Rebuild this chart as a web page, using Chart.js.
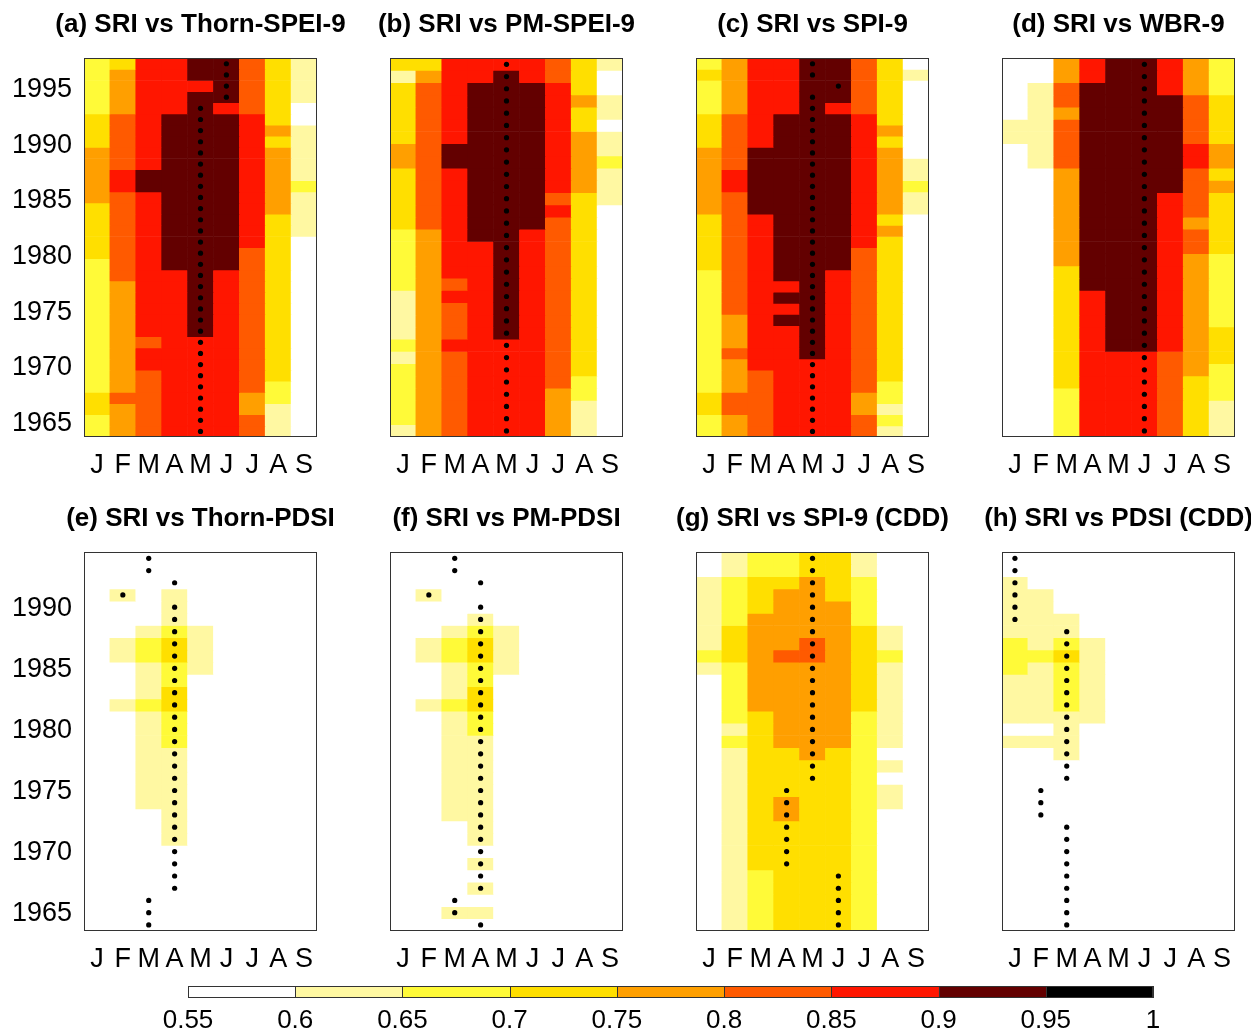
<!DOCTYPE html>
<html>
<head>
<meta charset="utf-8">
<script src="https://cdn.jsdelivr.net/npm/chart.js@4.4.0/dist/chart.umd.min.js"></script>
<style>
html, body { margin: 0; padding: 0; background: #fff; overflow: hidden; width: 1251px; height: 1032px; }
.panel { position: absolute; }
</style>
</head>
<body>
<script>
// month columns and colour classes of the colour bar
const months = ['J', 'F', 'M', 'A', 'M', 'J', 'J', 'A', 'S'];
const cbTicks = [0.55, 0.6, 0.65, 0.7, 0.75, 0.8, 0.85, 0.9, 0.95, 1];
const levelColors = ['#ffffff', '#fff8a2', '#fffa38', '#ffdf00', '#ff9f00', '#ff5a00', '#ff1600', '#630000', '#000000'];
const yearTicksTop = [1965, 1970, 1975, 1980, 1985, 1990, 1995];
const yearTicksBottom = [1965, 1970, 1975, 1980, 1985, 1990];

// cells: one string per month, colour class * number of years, from the latest year down
// peak: month index of the dot for each year, same order
const cellsA = [
  '2*5 3*3 4*5 3*5 2*12 3*2 2*2',
  '3*1 4*4 5*5 6*2 5*8 4*10 5*1 4*3',
  '6*10 7*2 6*13 5*1 6*2 5*6',
  '6*5 7*14 6*15',
  '7*2 6*1 7*22 6*9',
  '7*4 6*1 7*14 6*15',
  '5*5 6*12 5*13 4*2 5*2',
  '3*6 4*1 3*1 4*6 3*15 2*2 1*3',
  '1*4 0*2 1*5 2*1 1*4 0*18'
];
const peakA = '5*4 4*30';

const cellsB = [
  '3*1 1*1 3*5 4*2 3*5 2*5 1*4 2*1 1*1 2*5 1*1',
  '3*1 4*1 5*12 4*17',
  '6*7 7*2 6*9 5*1 6*1 5*3 6*1 5*7',
  '6*2 7*13 6*16',
  '6*1 7*22 6*8',
  '6*2 7*12 6*17',
  '5*2 6*9 5*1 6*1 5*14 4*4',
  '3*3 4*1 3*2 4*5 3*15 2*2 1*3',
  '1*1 0*2 1*2 0*1 1*2 2*1 1*3 0*19'
];
const peakB = '4*31';

const cellsC = [
  '2*1 3*1 2*3 3*3 4*6 3*5 2*11 3*2 2*2',
  '4*5 5*5 6*2 5*11 4*3 5*1 4*3 5*2 4*2',
  '6*8 7*6 6*14 5*6',
  '6*5 7*15 6*1 7*1 6*1 7*1 6*10',
  '7*27 6*7',
  '7*4 6*1 7*14 6*15',
  '5*5 6*12 5*13 4*2 5*2',
  '3*6 4*1 3*1 4*6 3*1 4*1 3*13 2*2 1*1 2*1 1*1',
  '0*1 1*1 0*7 1*2 2*1 1*2 0*20'
];
const peakC = '4*2 5*1 4*31';

const cellsD = [
  '0*5 1*2 0*24',
  '0*2 1*7 0*22',
  '4*2 5*2 4*1 5*4 4*8 3*10 2*4',
  '6*2 7*17 6*12',
  '7*24 6*7',
  '7*24 6*7',
  '6*3 7*8 6*13 5*7',
  '4*3 5*4 6*2 5*4 4*1 5*2 4*10 3*5',
  '2*3 3*4 4*2 3*1 4*1 3*5 2*6 3*3 2*3 1*3'
];
const peakD = '5*31';

const cellsE = [
  '0*31',
  '0*3 1*1 0*3 1*2 0*3 1*1 0*18',
  '0*6 1*1 2*2 1*3 2*1 1*8 0*10',
  '0*3 1*3 2*1 3*2 2*2 3*2 2*3 1*8 0*7',
  '0*6 1*4 0*21',
  '0*31', '0*31', '0*31', '0*31'
];
const peakE = '2*2 3*1 1*1 3*24 2*3';

const cellsF = [
  '0*31',
  '0*3 1*1 0*3 1*2 0*3 1*1 0*18',
  '0*6 1*1 2*2 1*3 2*1 1*9 0*7 1*1 0*1',
  '0*5 1*1 2*1 3*2 2*2 3*2 2*2 1*9 0*1 1*1 0*1 1*1 0*1 1*1 0*1',
  '0*6 1*4 0*21',
  '0*31', '0*31', '0*31', '0*31'
];
const peakF = '2*2 3*1 1*1 3*24 2*2 3*1';

const cellsG = [
  '0*2 1*6 2*1 1*1 0*21',
  '1*2 2*4 3*3 2*5 1*1 2*1 1*15',
  '2*2 3*3 4*8 3*13 2*5',
  '2*2 3*1 4*5 5*1 4*7 3*4 4*2 3*9',
  '3*2 4*5 5*2 4*8 3*14',
  '3*4 4*12 3*15',
  '1*2 2*4 3*7 2*18',
  '0*6 1*2 2*1 1*7 0*1 1*1 0*1 1*2 0*10',
  '0*31'
];
const peakG = '4*19 3*7 5*5';

const cellsH = [
  '0*2 1*5 2*3 1*4 0*1 1*1 0*15',
  '0*3 1*5 2*1 1*5 0*1 1*1 0*15',
  '0*5 1*2 2*1 3*1 2*4 1*4 0*14',
  '0*7 1*7 0*17',
  '0*31', '0*31', '0*31', '0*31', '0*31'
];
const peakH = '0*6 2*13 1*3 2*9';

const FONT = "'Liberation Sans', Arial, Helvetica, sans-serif";

function decodeRuns(str) {
  var out = [];
  str.trim().split(/\s+/).forEach(function(t){
    var p = t.split('*');
    for (var i = 0; i < +p[1]; i++) out.push(+p[0]);
  });
  return out;
}

// correlation taken as the middle of the colour class
function toCorr(k) { return cbTicks[k] + 0.025; }

function colorOf(v) {
  var k = Math.floor((v - 0.55) / 0.05 + 1e-9);
  if (k < 0) k = 0;
  if (k > 8) k = 8;
  return levelColors[k];
}

var frame = {
  id: 'frame',
  afterDatasetsDraw: function(chart){
    var a = chart.chartArea, c = chart.ctx;
    c.save();
    c.strokeStyle = '#333';
    c.lineWidth = 1;
    c.strokeRect(Math.round(a.left) + 0.5, Math.round(a.top) + 0.5,
                 Math.round(a.right - a.left) - 1, Math.round(a.bottom - a.top) - 1);
    c.restore();
  }
};

function makePanel(left, top, title, cells, peaks, firstYear, shift, ticks)
{
  var div = document.createElement('div');
  div.className = 'panel';
  div.style.left = (left - 84) + 'px';
  div.style.top = (top - 58) + 'px';
  var cv = document.createElement('canvas');
  cv.width = 401;
  cv.height = 497;
  div.appendChild(cv);
  document.body.appendChild(div);

  var corr = cells.map(function(s){ return decodeRuns(s).map(toCorr); });
  var peak = decodeRuns(peaks);
  var n = corr[0].length;
  corr.forEach(function(c, m){
    if (c.length !== n) throw new Error(title + ' month ' + m + ': ' + c.length + ' rows, expected ' + n);
  });
  if (peak.length !== n) throw new Error(title + ' peaks: ' + peak.length + ' rows, expected ' + n);
  var lastYear = firstYear + n - 1;

  var dots = [];
  var datasets = [];
  for (var r = 0; r < n; r++) {
    var yr = lastYear - r;
    var lo = yr - 0.5 + shift, hi = yr + 0.5 + shift;
    datasets.push({
      type: 'bar',
      order: 1,
      data: months.map(function(){ return [lo, hi]; }),
      backgroundColor: months.map(function(_, m){ return colorOf(corr[m][r]); }),
      borderWidth: 0,
      grouped: false,
      barPercentage: 1,
      categoryPercentage: 1
    });
    dots.push({x: peak[r], y: yr + shift});
  }
  datasets.unshift({
    type: 'line',
    order: 0,
    data: dots,
    xAxisID: 'xd',
    showLine: false,
    pointRadius: 2.6,
    pointBorderWidth: 0,
    pointBackgroundColor: '#000',
    pointBorderColor: '#000'
  });

  new Chart(cv, {
    type: 'bar',
    data: { labels: months, datasets: datasets },
    options: {
      responsive: false,
      animation: false,
      layout: { padding: 0 },
      plugins: {
        legend: { display: false },
        tooltip: { enabled: false },
        title: {
          display: true,
          text: title,
          color: '#000',
          font: { family: FONT, size: 26, weight: 'bold', lineHeight: 1.2 },
          padding: { top: 9, bottom: 18 }
        }
      },
      scales: {
        x: {
          type: 'category',
          offset: true,
          grid: { display: false, drawTicks: false },
          border: { display: false },
          ticks: { color: '#000', font: { family: FONT, size: 27 }, padding: 12, autoSkip: false, maxRotation: 0 },
          afterFit: function(s){ s.height = 60; }
        },
        xd: {
          type: 'linear', display: false, offset: false, min: -0.5, max: 8.5,
          grid: { offset: false }
        },
        y: {
          type: 'linear',
          min: firstYear - 0.5 + shift,
          max: lastYear + 0.5 + shift,
          grid: { display: false, drawTicks: false },
          border: { display: false },
          ticks: {
            display: !!ticks, color: '#000', font: { family: FONT, size: 27 }, padding: 12,
            callback: function(v){ return String(v); }
          },
          afterBuildTicks: function(s){ s.ticks = (ticks || []).map(function(v){ return {value: v}; }); },
          afterFit: function(s){ s.width = 84; }
        },
        yr: {
          type: 'linear',
          position: 'right',
          display: true,
          grid: { display: false, drawTicks: false },
          border: { display: false },
          ticks: { display: false },
          afterFit: function(s){ s.width = 84; }
        }
      }
    },
    plugins: [frame]
  });
}

makePanel(84, 58, '(a) SRI vs Thorn-SPEI-9', cellsA, peakA, 1964, 0.3, yearTicksTop);
makePanel(390, 58, '(b) SRI vs PM-SPEI-9', cellsB, peakB, 1964, 0.1, null);
makePanel(696, 58, '(c) SRI vs SPI-9', cellsC, peakC, 1964, 0.3, null);
makePanel(1002, 58, '(d) SRI vs WBR-9', cellsD, peakD, 1964, 0.1, null);
makePanel(84, 552, '(e) SRI vs Thorn-PDSI', cellsE, peakE, 1964, 0.1, yearTicksBottom);
makePanel(390, 552, '(f) SRI vs PM-PDSI', cellsF, peakF, 1964, 0.1, null);
makePanel(696, 552, '(g) SRI vs SPI-9 (CDD)', cellsG, peakG, 1964, 0.1, null);
makePanel(1002, 552, '(h) SRI vs PDSI (CDD)', cellsH, peakH, 1964, 0.1, null);

// colour bar
var cbFrame = {
  id: 'cbFrame',
  afterDatasetsDraw: function(chart){
    var a = chart.chartArea, c = chart.ctx, xs = chart.scales.x;
    c.save();
    c.strokeStyle = '#333';
    c.lineWidth = 1;
    c.beginPath();
    cbTicks.forEach(function(v){
      var px = Math.round(xs.getPixelForValue(v)) + 0.5;
      c.moveTo(px, a.top);
      c.lineTo(px, a.bottom);
    });
    c.stroke();
    c.strokeRect(Math.round(a.left) + 0.5, Math.round(a.top) + 0.5,
                 Math.round(a.right - a.left) - 1, Math.round(a.bottom - a.top) - 1);
    c.restore();
  }
};

(function(){
  var div = document.createElement('div');
  div.className = 'panel';
  div.style.left = '140px';
  div.style.top = '980px';
  var cv = document.createElement('canvas');
  cv.width = 1060;
  cv.height = 60;
  div.appendChild(cv);
  document.body.appendChild(div);

  new Chart(cv, {
    type: 'bar',
    data: {
      labels: [''],
      datasets: levelColors.map(function(col, k){
        return {
          data: [[cbTicks[k], cbTicks[k + 1]]],
          backgroundColor: col,
          borderWidth: 0,
          grouped: false,
          barPercentage: 1,
          categoryPercentage: 1
        };
      })
    },
    options: {
      indexAxis: 'y',
      responsive: false,
      animation: false,
      layout: { padding: { left: 48, right: 47, top: 6, bottom: 0 } },
      plugins: { legend: { display: false }, tooltip: { enabled: false } },
      scales: {
        x: {
          type: 'linear',
          min: 0.55,
          max: 1,
          grid: { display: false, drawTicks: false },
          border: { display: false },
          ticks: {
            color: '#000',
            font: { family: FONT, size: 26 },
            padding: 7,
            autoSkip: false,
            maxRotation: 0,
            callback: function(v){ return String(v); }
          },
          afterBuildTicks: function(s){ s.ticks = cbTicks.map(function(v){ return {value: v}; }); },
          afterFit: function(s){ s.height = 42; }
        },
        y: { display: false }
      }
    },
    plugins: [cbFrame]
  });
})();
</script>
</body>
</html>
